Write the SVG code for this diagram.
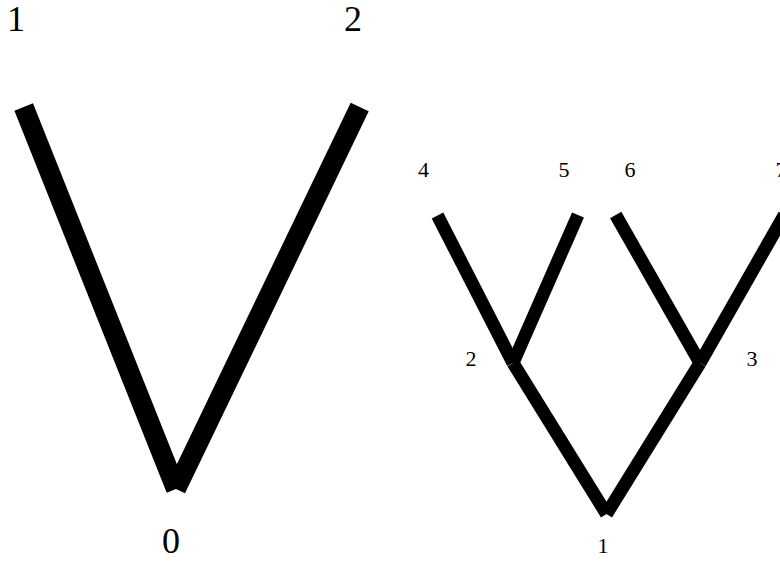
<svg xmlns="http://www.w3.org/2000/svg" width="780" height="561" viewBox="0 0 780 561">
<style>
.big{stroke:#000;stroke-width:20;stroke-linecap:butt;fill:none}
.small{stroke:#000;stroke-width:13;stroke-linecap:butt;fill:none}
text{font-family:"Liberation Serif","Times New Roman",serif;fill:#000;text-anchor:middle}
.lb{font-size:36px}
.ls{font-size:22px}
</style>
<rect width="780" height="561" fill="#fff"/>
<g id="connectors">
<line class="big" x1="176" y1="489" x2="23.7" y2="107"/>
<line class="big" x1="176" y1="489" x2="359.7" y2="107"/>
<line class="small" x1="606.5" y1="514" x2="513" y2="363"/>
<line class="small" x1="606.5" y1="514" x2="700" y2="363"/>
<line class="small" x1="513" y1="363" x2="437.5" y2="215.5"/>
<line class="small" x1="513" y1="363" x2="578" y2="215"/>
<line class="small" x1="700" y1="363" x2="615.7" y2="215"/>
<line class="small" x1="700" y1="363" x2="784.3" y2="215"/>
</g>
<g id="t0-n0"><text class="lb" x="171" y="553">0</text></g>
<g id="t0-n1"><text class="lb" x="16" y="31">1</text></g>
<g id="t0-n2"><text class="lb" x="353" y="31">2</text></g>
<g id="t1-n1"><text class="ls" x="603" y="553">1</text></g>
<g id="t1-n2"><text class="ls" x="471" y="366">2</text></g>
<g id="t1-n3"><text class="ls" x="752" y="366">3</text></g>
<g id="t1-n4"><text class="ls" x="423.5" y="177">4</text></g>
<g id="t1-n5"><text class="ls" x="564" y="177">5</text></g>
<g id="t1-n6"><text class="ls" x="630" y="177">6</text></g>
<g id="t1-n7"><text class="ls" x="781" y="177">7</text></g>
</svg>
